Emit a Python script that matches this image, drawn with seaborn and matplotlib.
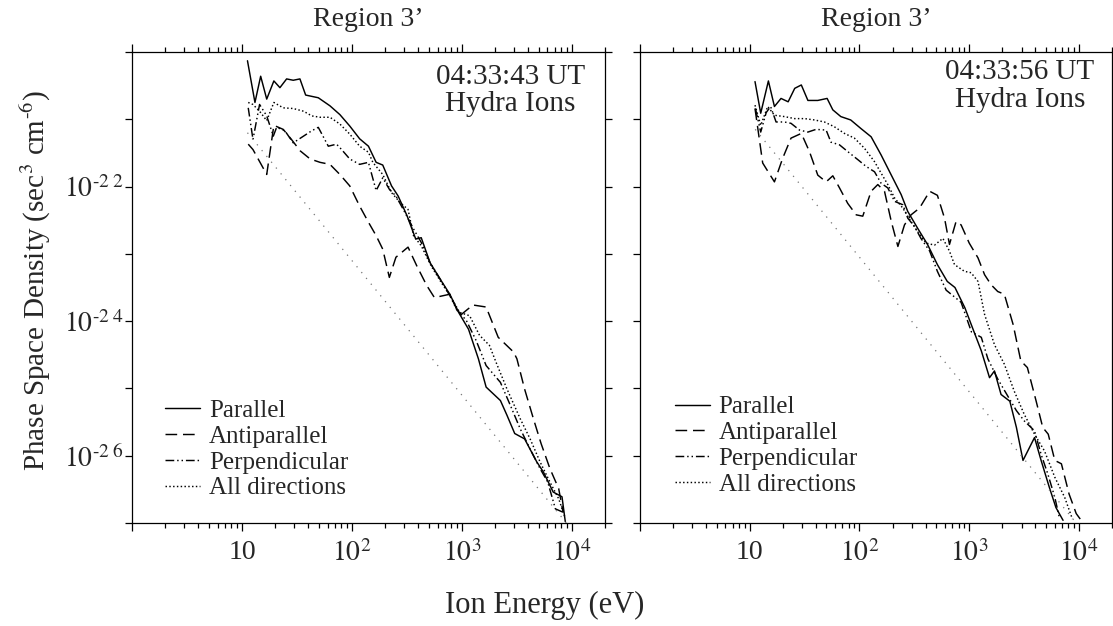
import numpy as np
import pandas as pd
import matplotlib
matplotlib.use("Agg")
import matplotlib.pyplot as plt
from matplotlib.lines import Line2D
from matplotlib.ticker import FixedLocator, NullFormatter, FixedFormatter
import seaborn as sns

# ---------------- data (log10 energy [eV], log10 phase space density) ----------------
series_names = ["Parallel", "Antiparallel", "Perpendicular", "All directions"]

# Left panel: 04:33:43 UT
L_par_logE = [1.05, 1.118, 1.17, 1.225, 1.29, 1.345, 1.406, 1.466, 1.527, 1.579, 1.694, 1.80, 1.89, 1.98,
              2.07, 2.15, 2.22, 2.28, 2.36, 2.42, 2.50, 2.58, 2.63, 2.71, 2.80, 2.89, 2.97, 3.06, 3.15,
              3.22, 3.35, 3.41, 3.48, 3.57, 3.68, 3.74, 3.83, 3.91, 3.94]
L_par_logf = [-20.13, -20.75, -20.36, -20.70, -20.43, -20.53, -20.40, -20.42, -20.40, -20.64, -20.68, -20.80,
              -20.93, -21.10, -21.29, -21.40, -21.64, -21.68, -21.99, -22.14, -22.43, -22.78, -22.76, -23.13,
              -23.37, -23.60, -23.87, -24.12, -24.56, -24.98, -25.18, -25.40, -25.67, -25.75, -26.09, -26.24,
              -26.54, -26.61, -26.98]
L_anti_logE = [1.057, 1.10, 1.225, 1.29, 1.375, 1.45, 1.53, 1.62, 1.71, 1.80, 1.89, 1.98, 2.07, 2.15, 2.22,
               2.28, 2.34, 2.40, 2.51, 2.59, 2.68, 2.75, 2.89, 2.98, 3.10, 3.22, 3.33, 3.47, 3.50, 3.57, 3.65,
               3.72, 3.80, 3.88, 3.92]
L_anti_logf = [-21.37, -21.45, -21.82, -21.09, -21.15, -21.30, -21.47, -21.59, -21.64, -21.67, -21.82, -21.99,
               -22.29, -22.53, -22.73, -22.93, -23.35, -23.05, -22.90, -23.18, -23.47, -23.65, -23.60, -23.92,
               -23.76, -23.79, -24.24, -24.46, -24.56, -25.01, -25.45, -25.82, -26.19, -26.49, -26.84]
L_perp_logE = [1.057, 1.10, 1.16, 1.225, 1.285, 1.315, 1.39, 1.466, 1.56, 1.635, 1.694, 1.785, 1.86, 1.906,
               1.98, 2.07, 2.15, 2.22, 2.28, 2.34, 2.40, 2.48, 2.56, 2.63, 2.71, 2.80, 2.89, 2.95, 3.04, 3.13,
               3.22, 3.35, 3.44, 3.53, 3.62, 3.71, 3.78, 3.85, 3.92]
L_perp_logf = [-20.83, -21.30, -20.78, -20.95, -21.25, -21.12, -21.17, -21.35, -21.25, -21.17, -21.12, -21.40,
               -21.37, -21.45, -21.59, -21.67, -21.64, -22.06, -21.87, -22.04, -22.14, -22.38, -22.63, -22.83,
               -23.13, -23.37, -23.62, -23.82, -23.99, -24.29, -24.66, -24.91, -25.25, -25.60, -25.90, -26.19,
               -26.39, -26.79, -26.84]
L_all_logE = [1.057, 1.10, 1.16, 1.225, 1.29, 1.375, 1.466, 1.56, 1.635, 1.71, 1.80, 1.89, 1.98, 2.07, 2.15,
              2.19, 2.28, 2.36, 2.44, 2.51, 2.56, 2.63, 2.72, 2.81, 2.89, 2.98, 3.07, 3.16, 3.25, 3.31, 3.41,
              3.53, 3.62, 3.71, 3.80, 3.88, 3.94]
L_all_logf = [-20.75, -20.78, -20.88, -21.02, -20.75, -20.83, -20.84, -20.88, -20.95, -20.97, -20.97, -21.07,
              -21.22, -21.40, -21.49, -21.64, -21.82, -22.09, -22.24, -22.34, -22.73, -22.88, -23.18, -23.42,
              -23.62, -23.87, -23.92, -24.21, -24.36, -24.61, -25.01, -25.45, -25.75, -26.09, -26.39, -26.64,
              -26.93]
L_count_logE = [1.05, 4.0]
L_count_logf = [-21.2, -27.1]

# Right panel: 04:33:56 UT
R_par_logE = [1.048, 1.10, 1.17, 1.225, 1.285, 1.35, 1.41, 1.47, 1.53, 1.62, 1.705, 1.757, 1.83, 1.92, 2.015,
              2.106, 2.197, 2.29, 2.38, 2.44, 2.53, 2.62, 2.71, 2.80, 2.87, 2.96, 3.03, 3.11, 3.185, 3.23, 3.29,
              3.37, 3.43, 3.49, 3.595, 3.655, 3.73, 3.79, 3.855]
R_par_logf = [-20.44, -20.91, -20.43, -20.81, -20.69, -20.74, -20.54, -20.49, -20.72, -20.72, -20.69, -20.86,
              -20.96, -21.01, -21.14, -21.26, -21.53, -21.83, -22.12, -22.37, -22.62, -22.86, -23.16, -23.41,
              -23.50, -23.80, -24.10, -24.44, -24.84, -24.74, -25.09, -25.19, -25.58, -26.07, -25.73, -26.07,
              -26.47, -26.77, -26.96]
R_anti_logE = [1.048, 1.118, 1.225, 1.30, 1.376, 1.47, 1.544, 1.62, 1.696, 1.757, 1.818, 1.893, 1.97, 2.03,
               2.106, 2.167, 2.228, 2.29, 2.35, 2.41, 2.47, 2.547, 2.64, 2.71, 2.775, 2.82, 2.88, 2.926, 3.00,
               3.08, 3.14, 3.20, 3.26, 3.32, 3.40, 3.47, 3.53, 3.61, 3.67, 3.72, 3.78, 3.84, 3.91, 3.975, 4.02]
R_anti_logf = [-20.84, -21.65, -21.93, -21.58, -21.28, -21.21, -21.48, -21.83, -21.93, -21.84, -22.02, -22.25,
               -22.42, -22.44, -22.07, -21.97, -22.07, -22.52, -22.89, -22.57, -22.42, -22.32, -22.07, -22.13,
               -22.47, -22.86, -22.52, -22.57, -22.84, -23.06, -23.31, -23.46, -23.56, -23.60, -24.05, -24.59,
               -24.69, -25.19, -25.58, -25.68, -26.07, -26.12, -26.57, -26.86, -26.96]
R_perp_logE = [1.052, 1.10, 1.15, 1.19, 1.24, 1.316, 1.376, 1.453, 1.53, 1.604, 1.696, 1.74, 1.818, 1.893,
               1.985, 2.06, 2.137, 2.197, 2.258, 2.32, 2.395, 2.44, 2.50, 2.56, 2.64, 2.71, 2.79, 2.926, 3.02,
               3.11, 3.17, 3.26, 3.35, 3.43, 3.50, 3.595, 3.655, 3.716, 3.78, 3.82]
R_perp_logf = [-20.84, -21.19, -20.90, -20.81, -21.04, -21.04, -21.06, -21.16, -21.19, -21.15, -21.16, -21.34,
               -21.38, -21.48, -21.60, -21.70, -21.78, -21.95, -22.02, -22.22, -22.27, -22.47, -22.59, -22.77,
               -22.96, -23.26, -23.54, -23.72, -24.16, -24.24, -24.56, -24.86, -25.11, -25.33, -25.48, -25.63,
               -25.98, -26.27, -26.62, -26.91]
R_all_logE = [1.048, 1.10, 1.164, 1.225, 1.316, 1.41, 1.50, 1.59, 1.68, 1.77, 1.863, 1.954, 2.045, 2.137,
              2.197, 2.258, 2.32, 2.395, 2.47, 2.53, 2.607, 2.684, 2.76, 2.82, 2.866, 2.957, 3.017, 3.08, 3.14,
              3.23, 3.32, 3.41, 3.50, 3.595, 3.686, 3.78, 3.87, 3.94]
R_all_logf = [-20.79, -21.09, -20.81, -20.94, -20.96, -20.99, -20.99, -21.01, -21.04, -21.11, -21.21, -21.28,
              -21.43, -21.63, -21.80, -21.97, -22.17, -22.32, -22.52, -22.67, -22.84, -22.87, -22.77, -22.96,
              -23.16, -23.26, -23.28, -23.41, -23.90, -24.35, -24.64, -25.04, -25.38, -25.68, -25.93, -26.32,
              -26.62, -26.94]
R_count_logE = [1.05, 4.0]
R_count_logf = [-21.15, -27.05]

panel_titles = ["Region 3\u2019", "Region 3\u2019"]
panel_times = ["04:33:43 UT\nHydra Ions", "04:33:56 UT\nHydra Ions"]
x_tick_vals = [1, 10, 100, 1000, 10000]
x_tick_labels = ["", "10", "$10^2$", "$10^3$", "$10^4$"]
y_tick_vals = [1e-20, 1e-21, 1e-22, 1e-23, 1e-24, 1e-25, 1e-26, 1e-27]
y_tick_labels = ["", "", r"$10^{\text{-}2\;2}$", "", r"$10^{\text{-}2\;4}$", "", r"$10^{\text{-}2\;6}$", ""]

# ---------------- styling ----------------
sns.set_theme(style="ticks")
plt.rcParams["font.family"] = ["Liberation Serif", "DejaVu Serif"]
plt.rcParams["mathtext.fontset"] = "stix"

styles = {
    "Parallel": "-",
    "Antiparallel": (0, (8, 4)),
    "Perpendicular": (0, (6, 2, 1, 2, 1, 2)),
    "All directions": (0, (1, 1.6)),
}

W, H = 1113, 626
fig = plt.figure(figsize=(W / 100, H / 100), dpi=100)
axL = fig.add_axes([132 / W, 1 - 523 / H, 473 / W, 471 / H])
axR = fig.add_axes([640 / W, 1 - 523 / H, 472 / W, 471 / H])

panels = [
    (axL, [(L_par_logE, L_par_logf), (L_anti_logE, L_anti_logf), (L_perp_logE, L_perp_logf),
           (L_all_logE, L_all_logf)], (L_count_logE, L_count_logf), True, (0.07, 0.262), 0.80, 0.918),
    (axR, [(R_par_logE, R_par_logf), (R_anti_logE, R_anti_logf), (R_perp_logE, R_perp_logf),
           (R_all_logE, R_all_logf)], (R_count_logE, R_count_logf), False, (0.074, 0.270), 0.805, 0.928),
]

for i, (ax, series, count, show_ylabels, leg_anchor, tx, ty) in enumerate(panels):
    ax.set_xscale("log")
    ax.set_yscale("log")
    rows = []
    for name, (le, lf) in zip(series_names, series):
        for a, b in zip(le, lf):
            rows.append({"series": name, "E": 10 ** a, "f": 10 ** b})
    df = pd.DataFrame(rows)
    for name in series_names:
        sub = df[df["series"] == name]
        sns.lineplot(data=sub, x="E", y="f", ax=ax, color="black", lw=1.05,
                     linestyle=styles[name], sort=False, estimator=None, legend=False)
    cdf = pd.DataFrame({"E": np.power(10.0, count[0]), "f": np.power(10.0, count[1])})
    sns.lineplot(data=cdf, x="E", y="f", ax=ax, color="#777777", lw=0.9,
                 linestyle=(0, (1, 5)), sort=False, estimator=None, legend=False)

    ax.set_xlim(1, 2e4)
    ax.set_ylim(1e-27, 1e-20)
    ax.set_xlabel("")
    ax.set_ylabel("")

    ax.xaxis.set_major_locator(FixedLocator(x_tick_vals))
    ax.xaxis.set_major_formatter(FixedFormatter(x_tick_labels))
    minors = [m * 10 ** k for k in range(0, 5) for m in range(2, 10) if m * 10 ** k <= 2e4]
    ax.xaxis.set_minor_locator(FixedLocator(minors))
    ax.xaxis.set_minor_formatter(NullFormatter())
    ax.yaxis.set_major_locator(FixedLocator(y_tick_vals))
    ax.yaxis.set_minor_locator(FixedLocator([]))
    if show_ylabels:
        ax.yaxis.set_major_formatter(FixedFormatter(y_tick_labels))
    else:
        ax.yaxis.set_major_formatter(NullFormatter())

    ax.tick_params(axis="both", which="both", direction="out", top=True, right=True,
                   color="black", width=0.9)
    ax.tick_params(axis="x", which="major", length=6, labelsize=20, pad=6)
    ax.tick_params(axis="x", which="minor", length=3.5)
    ax.tick_params(axis="y", which="major", length=5, labelsize=20, pad=1)
    for sp in ax.spines.values():
        sp.set_visible(True)
        sp.set_color("black")
        sp.set_linewidth(0.9)

    ax.set_title(panel_titles[i], fontsize=20, pad=19)
    ax.text(tx, ty, panel_times[i], transform=ax.transAxes, ha="center", va="center",
            fontsize=21, linespacing=1.07, multialignment="center")

    handles = [Line2D([], [], color="black", lw=1.05, linestyle=styles[n]) for n in series_names]
    ax.legend(handles, series_names, loc="upper left", bbox_to_anchor=leg_anchor, frameon=False,
              fontsize=18, handlelength=1.4, handletextpad=0.35, labelspacing=0.13,
              borderpad=0, borderaxespad=0)

fig.text(545 / W, 1 - 605 / H, "Ion Energy (eV)", ha="center", va="center", fontsize=22)
fig.text(36 / W, 1 - 281 / H, r"Phase Space Density (sec$^{3}$ cm$^{\text{-}6}$)", rotation=90,
         ha="center", va="center", fontsize=21)

fig.savefig("out.png", dpi=100)
